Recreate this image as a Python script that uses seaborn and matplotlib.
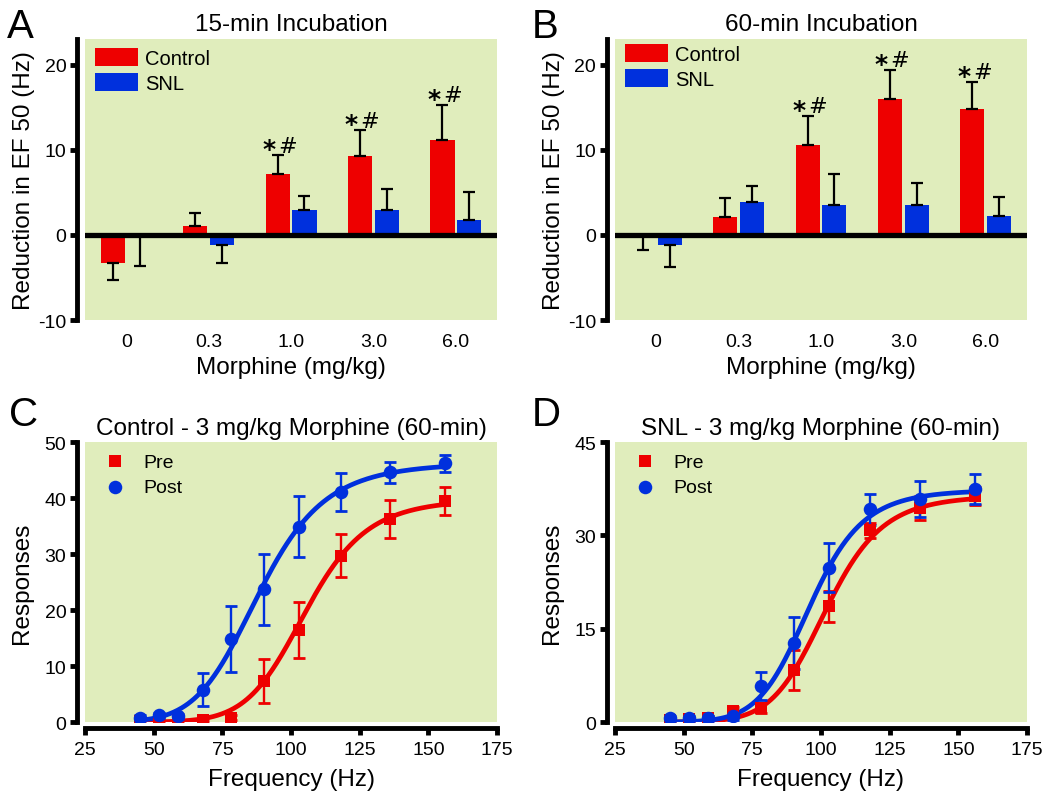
import numpy as np
import pandas as pd
import matplotlib
matplotlib.use("Agg")
import matplotlib.pyplot as plt
import seaborn as sns

RED = "#EE0000"
BLUE = "#0030DD"
GREEN = "#E0EDBC"

doses = ["0", "0.3", "1.0", "3.0", "6.0"]
groups = ["Control", "SNL"]

# A: 15-min incubation, reduction in EF50 (Hz), mean and SEM
a_control = [-3.3, 1.05, 7.15, 9.3, 11.1]
a_control_sem = [2.0, 1.5, 2.2, 3.0, 4.2]
a_snl = [-0.05, -1.2, 2.95, 2.9, 1.8]
a_snl_sem = [3.65, 2.1, 1.6, 2.45, 3.2]
a_marks = ["", "", "*#", "*#", "*#"]

# B: 60-min incubation
b_control = [-0.05, 2.05, 10.5, 15.9, 14.8]
b_control_sem = [1.75, 2.25, 3.45, 3.5, 3.2]
b_snl = [-1.15, 3.85, 3.5, 3.5, 2.2]
b_snl_sem = [2.65, 1.85, 3.65, 2.6, 2.2]
b_marks = ["", "", "*#", "*#", "*#"]

# C/D: frequency-response curves
freqs = [45, 52, 59, 68, 78, 90, 103, 118, 136, 156]
c_pre = [0.2, 0.3, 0.4, 0.4, 0.8, 7.3, 16.5, 29.7, 36.2, 39.5]
c_pre_sem = [0.3, 0.3, 0.3, 0.3, 0.4, 3.9, 5.0, 3.8, 3.4, 2.5]
c_post = [0.8, 1.2, 1.0, 5.8, 14.8, 23.7, 34.9, 41.1, 44.6, 46.2]
c_post_sem = [0.5, 0.5, 0.5, 3.0, 5.9, 6.3, 5.5, 3.4, 1.9, 1.5]
# fitted curves: (top, EF50, slope)
c_pre_fit = (39.8, 105.5, 9.5)
c_post_fit = (46.3, 88.5, 7.4)

d_pre = [0.4, 0.5, 0.7, 1.8, 2.3, 8.4, 18.6, 30.8, 34.4, 36.3]
d_pre_sem = [0.3, 0.3, 0.3, 0.6, 0.8, 3.2, 2.5, 1.2, 1.9, 1.5]
d_post = [0.6, 0.6, 0.6, 0.9, 5.8, 12.7, 24.8, 34.2, 35.8, 37.4]
d_post_sem = [0.4, 0.4, 0.4, 0.5, 2.2, 4.2, 3.9, 2.5, 2.9, 2.4]
d_pre_fit = (36.4, 102.0, 10.0)
d_post_fit = (37.3, 96.0, 10.0)

sns.set_style("ticks")
plt.rcParams["font.family"] = ["Liberation Sans", "DejaVu Sans"]
plt.rcParams.update({"text.color": "black", "axes.labelcolor": "black",
                     "xtick.color": "black", "ytick.color": "black",
                     "axes.edgecolor": "black", "axes.unicode_minus": False})

TICK_FS = 14
LABEL_FS = 17.5

fig = plt.figure(figsize=(10.5, 8.04), dpi=100)
axA = fig.add_axes([0.0810, 0.6007, 0.3924, 0.3495])
axB = fig.add_axes([0.5857, 0.6007, 0.3924, 0.3495])
axC = fig.add_axes([0.0810, 0.1007, 0.3924, 0.3483])
axD = fig.add_axes([0.5857, 0.1007, 0.3924, 0.3483])


def style_axis(ax):
    ax.set_facecolor(GREEN)
    ax.spines["left"].set_linewidth(3.5)
    ax.spines["left"].set_position(("outward", 5.5))
    ax.tick_params(axis="y", length=5, width=3.5, labelsize=TICK_FS, pad=3)


def bar_panel(ax, control, control_sem, snl, snl_sem, marks, title, leg_y):
    df = pd.DataFrame({"dose": doses * 2,
                       "value": control + snl,
                       "group": ["Control"] * 5 + ["SNL"] * 5})
    sns.barplot(data=df, x="dose", y="value", hue="group", order=doses,
                hue_order=groups, palette=[RED, BLUE], saturation=1,
                width=0.65, gap=0.1, errorbar=None, linewidth=0, ax=ax)
    for cont, vals, sems in zip(ax.containers, [control, snl], [control_sem, snl_sem]):
        xs = [b.get_x() + b.get_width() / 2 for b in cont]
        lo = [s if v < 0 else 0 for v, s in zip(vals, sems)]
        hi = [0 if v < 0 else s for v, s in zip(vals, sems)]
        ax.errorbar(xs, vals, yerr=[lo, hi], fmt="none", ecolor="black",
                    elinewidth=1.6, capsize=4.5, capthick=1.6, zorder=3)
    xs = [b.get_x() + b.get_width() / 2 for b in ax.containers[0]]
    for x, v, s, m in zip(xs, control, control_sem, marks):
        if m:
            ax.annotate(m[0], (x, v + s), xytext=(-6.3, -0.8), textcoords="offset points",
                        ha="center", va="baseline", fontsize=18, fontweight="bold",
                        family="DejaVu Sans")
            ax.annotate(m[1], (x, v + s), xytext=(7.0, 2.6), textcoords="offset points",
                        ha="center", va="baseline", fontsize=16, family="DejaVu Sans")
    ax.axhline(0, color="black", lw=3.8, zorder=4)
    ax.set_ylim(-10, 23)
    ax.set_xlim(-0.5, 4.5)
    ax.set_yticks([-10, 0, 10, 20])
    sns.despine(ax=ax, bottom=True)
    style_axis(ax)
    ax.tick_params(axis="x", length=0, labelsize=TICK_FS, pad=9)
    ax.set_xlabel("Morphine (mg/kg)", fontsize=LABEL_FS, labelpad=4.5)
    ax.set_ylabel("Reduction in EF 50 (Hz)", fontsize=LABEL_FS, labelpad=2)
    ax.set_title(title, fontsize=LABEL_FS, pad=6.7)
    h, l = ax.get_legend_handles_labels()
    ax.legend(h, l, loc="upper left", bbox_to_anchor=(0.024, leg_y), frameon=False,
              fontsize=14.5, handlelength=2.14, handleheight=1.0, handletextpad=0.35,
              labelspacing=0.25, borderpad=0, borderaxespad=0)


def curve_panel(ax, pre, pre_sem, post, post_sem, pre_fit, post_fit, ymax, yticks, title):
    xfit = np.linspace(freqs[0], freqs[-1], 300)
    series = [(pre, pre_sem, pre_fit, RED, "s", 64, "Pre"),
              (post, post_sem, post_fit, BLUE, "o", 95, "Post")]
    for vals, sems, fit, color, marker, size, label in series:
        top, ef50, n = fit
        yfit = top * xfit ** n / (ef50 ** n + xfit ** n)
        sns.lineplot(x=xfit, y=yfit, color=color, lw=3.4, estimator=None, ax=ax)
        ax.errorbar(freqs, vals, yerr=sems, fmt="none", ecolor=color,
                    elinewidth=1.7, capsize=4.5, capthick=2)
        sns.scatterplot(x=freqs, y=vals, color=color, marker=marker, s=size,
                        linewidth=0, label=label, ax=ax, zorder=3)
    ax.set_xlim(25, 175)
    ax.set_ylim(0, ymax)
    ax.set_xticks(range(25, 176, 25))
    ax.set_yticks(yticks)
    sns.despine(ax=ax)
    style_axis(ax)
    ax.spines["bottom"].set_linewidth(3.5)
    ax.spines["bottom"].set_position(("outward", 4.5))
    ax.tick_params(axis="x", length=5, width=3.5, labelsize=TICK_FS, pad=4)
    ax.set_xlabel("Frequency (Hz)", fontsize=LABEL_FS, labelpad=7.5)
    ax.set_ylabel("Responses", fontsize=LABEL_FS, labelpad=8.5)
    ax.set_title(title, fontsize=LABEL_FS, pad=6)
    ax.legend(loc="upper left", bbox_to_anchor=(0.037, 0.961), frameon=False,
              fontsize=14, handlelength=1.5, handletextpad=0.7, labelspacing=0.4,
              borderpad=0, borderaxespad=0, scatterpoints=1)


bar_panel(axA, a_control, a_control_sem, a_snl, a_snl_sem, a_marks, "15-min Incubation", 0.968)
bar_panel(axB, b_control, b_control_sem, b_snl, b_snl_sem, b_marks, "60-min Incubation", 0.982)
curve_panel(axC, c_pre, c_pre_sem, c_post, c_post_sem, c_pre_fit, c_post_fit,
            50, [0, 10, 20, 30, 40, 50], "Control - 3 mg/kg Morphine (60-min)")
curve_panel(axD, d_pre, d_pre_sem, d_post, d_post_sem, d_pre_fit, d_post_fit,
            45, [0, 15, 30, 45], "SNL - 3 mg/kg Morphine (60-min)")

for letter, x, y in [("A", 0.007, 0.9527), ("B", 0.506, 0.9527),
                     ("C", 0.009, 0.470), ("D", 0.506, 0.470)]:
    fig.text(x, y, letter, fontsize=29, va="baseline", ha="left")

fig.savefig("out.png", dpi=100)
